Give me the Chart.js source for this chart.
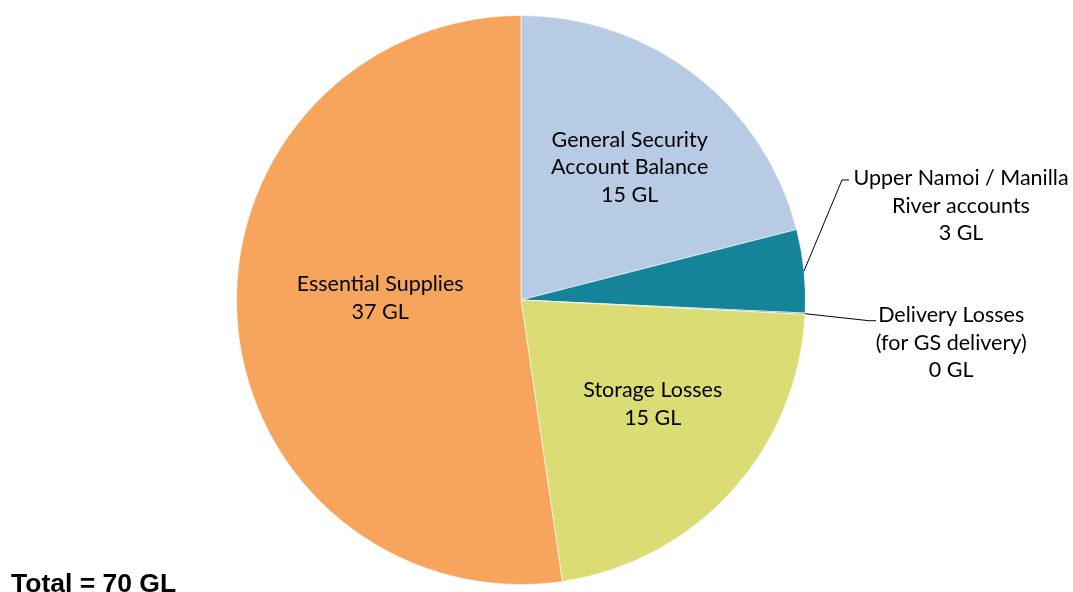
<!DOCTYPE html>
<html>
<head>
<meta charset="utf-8">
<script src="https://cdn.jsdelivr.net/npm/chart.js@4.4.1/dist/chart.umd.min.js"></script>
<style>
  html, body { margin: 0; padding: 0; background: #fff; overflow: hidden; }
  #wrap { position: relative; width: 1073px; height: 592px; overflow: hidden; }
  #total { position: absolute; left: 11px; top: 568px; font: bold 26.5px "Liberation Sans", Arial, sans-serif; color: #000; line-height: 30px; }
</style>
</head>
<body>
<div id="wrap">
  <canvas id="pie" width="1073" height="592"></canvas>
  <div id="total">Total = 70 GL</div>
</div>
<script>
// slices, clockwise from 12 o'clock
const categories = [
  ['General Security', 'Account Balance'],
  ['Upper Namoi / Manilla', 'River accounts'],
  ['Delivery Losses', '(for GS delivery)'],
  ['Storage Losses'],
  ['Essential Supplies']
];
const values = [14.7, 3.3, 0.05, 15.3, 36.6];
const valueLabels = ['15 GL', '3 GL', '0 GL', '15 GL', '37 GL'];
const colors = ['#B7CBE4', '#15849A', '#4A7EBB', '#DCDC74', '#F7A55C'];

// label block centres: inside ones as a fraction of the radius from the pie centre,
// outside ones relative to the slice edge, with a leader line elbow
const labelPlace = [
  {inside: [0.382, -0.467]},
  {elbow: [38, -91], text: [157, -65]},
  {elbow: [64, 7], text: [146, 29]},
  {inside: [0.463, 0.365]},
  {inside: [-0.495, -0.007]}
];

const ctx = document.getElementById('pie').getContext('2d');

const labelPlugin = {
  id: 'sliceLabels',
  afterDatasetsDraw(chart) {
    const c = chart.ctx;
    const arcs = chart.getDatasetMeta(0).data;
    c.save();
    c.font = '21.5px Lato, "Noto Sans", sans-serif';
    c.fillStyle = '#000';
    c.textAlign = 'center';
    c.textBaseline = 'middle';
    const lineH = 27.5;
    arcs.forEach((arc, i) => {
      const p = labelPlace[i];
      const mid = (arc.startAngle + arc.endAngle) / 2;
      const lines = categories[i].concat([valueLabels[i]]);
      let cx, cy;
      if (p.inside) {
        cx = arc.x + p.inside[0] * arc.outerRadius;
        cy = arc.y + p.inside[1] * arc.outerRadius;
      } else {
        const ex = arc.x + Math.cos(mid) * arc.outerRadius;
        const ey = arc.y + Math.sin(mid) * arc.outerRadius;
        const bx = ex + p.elbow[0], by = ey + p.elbow[1];
        c.strokeStyle = '#000';
        c.lineWidth = 1;
        c.beginPath();
        c.moveTo(ex, ey);
        c.lineTo(bx, by);
        c.lineTo(bx + 7, by);
        c.stroke();
        cx = ex + p.text[0];
        cy = ey + p.text[1];
      }
      const top = cy - (lines.length - 1) * lineH / 2;
      lines.forEach((t, k) => c.fillText(t, cx, top + k * lineH));
    });
    c.restore();
  }
};

new Chart(ctx, {
  type: 'pie',
  data: {
    labels: categories.map(l => l.join(' ')),
    datasets: [{
      data: values,
      backgroundColor: colors,
      borderColor: 'rgba(255,255,255,0.6)',
      borderWidth: 1
    }]
  },
  options: {
    responsive: false,
    animation: false,
    layout: { padding: { left: 236, right: 267, top: 15, bottom: 7 } },
    plugins: {
      legend: { display: false },
      tooltip: { enabled: false }
    }
  },
  plugins: [labelPlugin]
});
</script>
</body>
</html>
